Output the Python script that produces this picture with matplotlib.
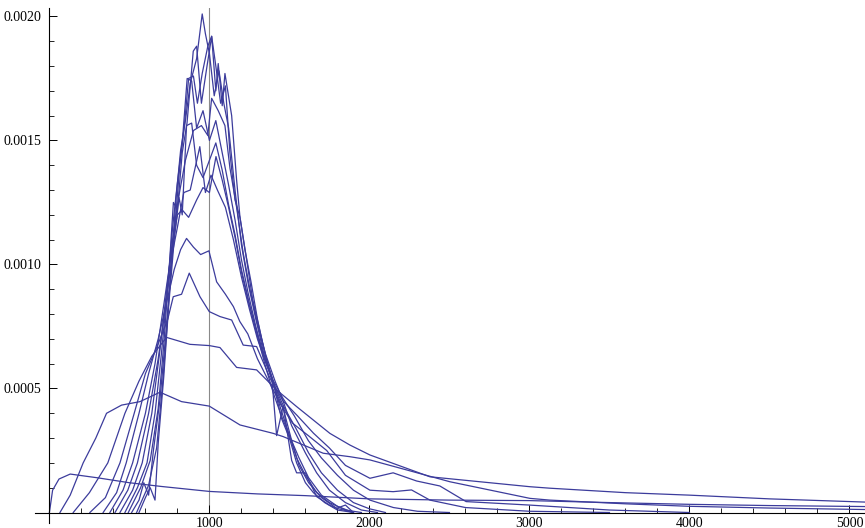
import matplotlib
matplotlib.use("Agg")
import matplotlib.pyplot as plt
import numpy as np
from matplotlib.ticker import MultipleLocator, FixedLocator

# values in units of 1e-4
SCALE = 1e-4

x_a = [0, 20, 60, 130, 300, 500, 700, 1000, 1300, 1600, 2000, 2500, 3000, 3500, 4000, 4500, 5100]
y_a = [0, 0.9, 1.35, 1.55, 1.4, 1.2, 1.05, 0.85, 0.75, 0.68, 0.55, 0.5, 0.48, 0.4, 0.33, 0.28, 0.24]

x_b = [66, 130, 211, 290, 357, 451, 566, 691, 826, 999, 1191, 1399, 1461, 1711, 1878, 2003, 2503, 3003, 3128, 3600, 4000, 4500, 5100]
y_b = [0, 0.7, 2.0, 3.0, 4.0, 4.33, 4.47, 4.85, 4.47, 4.29, 3.53, 3.19, 3.06, 2.39, 2.25, 2.12, 1.24, 0.57, 0.5, 0.35, 0.25, 0.18, 0.12]

x_c = [149, 250, 365, 472, 560, 640, 732, 878, 999, 1066, 1170, 1295, 1420, 1545, 1753, 1878, 2003, 2378, 3003, 3128, 3600, 4000, 4500, 5100]
y_c = [0, 0.8, 2.0, 4.0, 5.3, 6.3, 7.06, 6.78, 6.73, 6.65, 5.85, 5.75, 4.94, 4.27, 3.19, 2.72, 2.32, 1.44, 1.04, 0.98, 0.8, 0.7, 0.55, 0.42]

x_d = [253, 350, 441, 530, 600, 680, 740, 774, 826, 874, 941, 999, 1066, 1139, 1211, 1295, 1380, 1460, 1550, 1650, 1750, 1850, 2003, 2148, 2295, 2440, 2604, 3000, 3500, 4000]
y_d = [0, 0.6, 2.0, 4.0, 5.6, 6.8, 7.8, 8.7, 8.8, 9.65, 8.7, 8.1, 7.9, 7.76, 6.75, 6.69, 5.4, 4.5, 3.9, 3.2, 2.6, 1.9, 1.38, 1.6, 1.27, 1.07, 0.44, 0.3, 0.1, 0.0]

x_e = [336, 420, 480, 560, 620, 680, 730, 780, 820, 857, 900, 945, 997, 1045, 1100, 1150, 1190, 1240, 1300, 1370, 1450, 1520, 1618, 1733, 1850, 2003, 2148, 2263, 2378, 2600, 3000, 3500]
y_e = [0, 0.8, 2.0, 4.0, 5.6, 7.0, 8.4, 9.8, 10.6, 11.05, 10.7, 10.4, 10.55, 9.3, 8.8, 8.3, 7.7, 7.2, 6.2, 5.3, 4.3, 3.6, 3.1, 2.5, 1.5, 0.9, 0.84, 0.91, 0.5, 0.2, 0.05, 0.0]

x_f = [378, 460, 520, 600, 660, 720, 770, 800, 830, 870, 920, 960, 1000, 1041, 1080, 1120, 1160, 1200, 1240, 1290, 1340, 1400, 1460, 1530, 1618, 1700, 1800, 1900, 2003, 2150, 2300, 2500]
y_f = [0, 0.9, 2.0, 4.0, 6.0, 8.6, 10.8, 12.0, 12.2, 11.9, 12.6, 13.1, 12.9, 14.35, 13.4, 12.3, 11.1, 9.7, 8.6, 7.4, 6.3, 5.3, 4.6, 3.9, 2.9, 2.2, 1.5, 0.9, 0.5, 0.2, 0.05, 0.0]

x_g = [410, 490, 550, 620, 680, 730, 770, 800, 840, 880, 940, 975, 1010, 1050, 1100, 1150, 1200, 1250, 1300, 1360, 1420, 1470, 1540, 1620, 1700, 1800, 1900, 2000, 2100]
y_g = [0, 0.9, 2.0, 4.0, 6.2, 8.5, 10.5, 11.5, 12.9, 13.0, 14.75, 12.9, 13.6, 13.0, 12.3, 11.0, 9.5, 8.2, 7.0, 5.9, 4.9, 4.2, 3.4, 2.4, 1.6, 0.9, 0.4, 0.15, 0.0]

x_h = [441, 520, 580, 640, 690, 730, 770, 810, 850, 900, 950, 990, 1014, 1055, 1097, 1128, 1170, 1210, 1250, 1300, 1350, 1410, 1460, 1514, 1600, 1670, 1750, 1850, 1950, 2050]
y_h = [0, 0.9, 2.0, 4.0, 6.5, 8.8, 11.0, 12.8, 14.2, 15.4, 15.6, 15.2, 16.7, 16.2, 15.6, 13.9, 12.3, 10.5, 9.1, 7.6, 6.4, 5.3, 4.5, 3.5, 2.4, 1.6, 0.9, 0.4, 0.1, 0.0]

x_i = [472, 550, 610, 660, 700, 735, 770, 800, 830, 861, 889, 920, 960, 1000, 1040, 1080, 1120, 1160, 1200, 1240, 1290, 1340, 1400, 1440, 1490, 1545, 1600, 1670, 1750, 1850, 1950]
y_i = [0, 1.0, 2.0, 4.0, 6.4, 8.8, 11.5, 13.3, 14.9, 17.5, 17.4, 15.5, 16.2, 15.0, 15.8, 14.5, 13.2, 11.8, 10.2, 8.9, 7.5, 6.3, 5.2, 4.3, 3.3, 2.2, 1.5, 0.8, 0.4, 0.1, 0.0]

x_j = [493, 570, 630, 680, 715, 745, 775, 800, 830, 860, 899, 920, 950, 985, 1014, 1040, 1055, 1080, 1097, 1139, 1170, 1191, 1230, 1270, 1316, 1360, 1420, 1461, 1514, 1560, 1620, 1700, 1795, 1900]
y_j = [0, 1.0, 2.1, 4.2, 6.8, 9.5, 12.5, 12.2, 14.5, 15.7, 18.6, 18.8, 16.5, 18.0, 19.2, 17.0, 18.1, 16.4, 17.7, 16.0, 13.4, 11.9, 10.3, 8.6, 7.3, 6.1, 4.8, 4.2, 2.9, 1.9, 1.2, 0.6, 0.17, 0.0]

x_k = [514, 560, 590, 620, 650, 690, 725, 760, 790, 820, 850, 880, 920, 955, 975, 1000, 1030, 1060, 1090, 1120, 1160, 1200, 1243, 1290, 1340, 1390, 1420, 1461, 1514, 1545, 1600, 1670, 1750, 1795, 1850, 1900]
y_k = [0, 0.5, 1.2, 0.7, 2.5, 4.5, 7.0, 9.8, 12.6, 14.6, 15.8, 17.3, 18.3, 20.1, 19.3, 18.5, 16.8, 17.8, 16.5, 15.5, 13.0, 10.8, 9.2, 7.8, 6.4, 5.4, 3.1, 4.3, 2.1, 1.6, 1.6, 0.64, 0.3, 0.17, 0.3, 0.0]

x_l = [545, 620, 670, 705, 735, 765, 790, 815, 845, 870, 900, 925, 955, 990, 1014, 1040, 1070, 1100, 1128, 1160, 1191, 1222, 1260, 1300, 1350, 1400, 1450, 1500, 1545, 1600, 1650, 1720, 1800, 1900]
y_l = [0, 1.1, 2.6, 5.0, 7.5, 10.3, 12.0, 14.0, 15.7, 17.5, 17.6, 16.5, 17.7, 18.8, 19.2, 18.0, 16.5, 17.2, 14.5, 12.6, 11.9, 10.6, 9.3, 7.8, 6.3, 5.2, 3.8, 3.0, 2.0, 1.2, 0.8, 0.4, 0.1, 0.0]

x_m = [560, 600, 630, 660, 680, 715, 745, 780, 810, 830, 857, 889, 920, 960, 1000, 1040, 1080, 1120, 1160, 1200, 1250, 1300, 1350, 1400, 1450, 1500, 1560, 1620, 1700, 1800, 1900]
y_m = [0, 0.6, 1.0, 0.5, 2.8, 5.5, 8.3, 11.0, 12.7, 12.0, 15.6, 15.7, 14.0, 13.5, 14.2, 14.9, 13.8, 12.4, 11.2, 9.8, 8.4, 7.1, 5.9, 4.8, 3.9, 3.1, 2.2, 1.4, 0.7, 0.25, 0.0]

curves = [(x_a, y_a), (x_b, y_b), (x_c, y_c), (x_d, y_d), (x_e, y_e), (x_f, y_f),
          (x_g, y_g), (x_h, y_h), (x_i, y_i), (x_j, y_j), (x_k, y_k), (x_l, y_l), (x_m, y_m)]

line_color = "#3c3c9c"

plt.rcParams['font.family'] = ['Liberation Serif', 'DejaVu Serif']

fig = plt.figure(figsize=(8.65, 5.28), dpi=100)
ax = fig.add_axes([35 / 865, 5 / 528, 830 / 865, 515 / 528])

for xs, ys in curves:
    ax.plot(xs, np.array(ys) * SCALE, color=line_color, linewidth=0.9)

ymin, ymax = -0.0000423, 0.002034
ax.set_xlim(-90, 5097)
ax.set_ylim(ymin, ymax)

# gray marker line at 1000
ax.axvline(1000, ymin=(0 - ymin) / (ymax - ymin), ymax=1, color="#8a8a8a", linewidth=0.8, zorder=0)

for s in ["top", "right"]:
    ax.spines[s].set_visible(False)
ax.spines["left"].set_position(("data", 0))
ax.spines["bottom"].set_position(("data", 0))
ax.spines["left"].set_linewidth(0.8)
ax.spines["bottom"].set_linewidth(0.8)

ax.xaxis.set_major_locator(FixedLocator([1000, 2000, 3000, 4000, 5000]))
ax.xaxis.set_minor_locator(MultipleLocator(200))
ax.yaxis.set_major_locator(FixedLocator([0.0005, 0.0010, 0.0015, 0.0020]))
ax.yaxis.set_minor_locator(MultipleLocator(0.0001))
ax.set_xticklabels(["1000", "2000", "3000", "4000", "5000"])
ax.set_yticklabels(["0.0005", "0.0010", "0.0015", "0.0020"])

ax.tick_params(which="major", direction="in", length=6, width=0.7, labelsize=10, pad=3)
ax.tick_params(which="minor", direction="in", length=3.5, width=0.6)
ax.tick_params(axis="y", which="both", pad=6)

ax.patch.set_alpha(0)
fig.savefig("out.png", dpi=100)
